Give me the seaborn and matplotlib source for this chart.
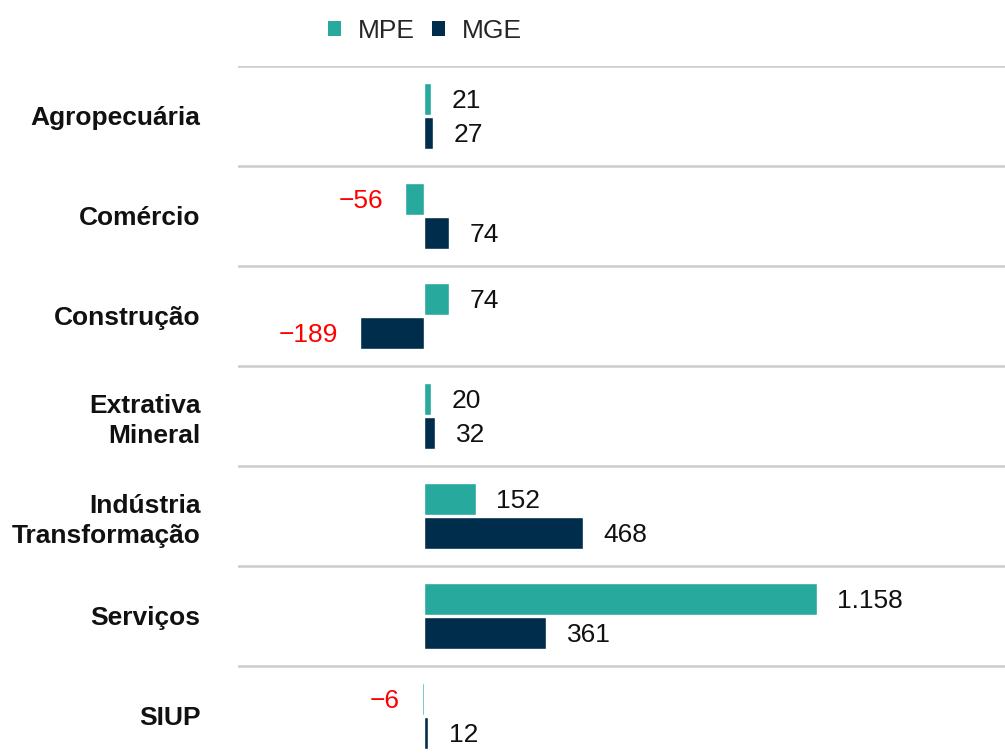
import matplotlib
matplotlib.use("Agg")
import matplotlib.pyplot as plt
import seaborn as sns
import pandas as pd
from matplotlib.patches import Patch

categories = ["Agropecuária", "Comércio", "Construção", "Extrativa\nMineral",
              "Indústria\nTransformação", "Serviços", "SIUP"]
mpe = [21, -56, 74, 20, 152, 1158, -6]
mge = [27, 74, -189, 32, 468, 361, 12]
series = ["MPE", "MGE"]
colors = {"MPE": "#27A99D", "MGE": "#002D4C"}

df = pd.DataFrame({
    "categoria": categories * 2,
    "valor": mpe + mge,
    "serie": ["MPE"] * len(categories) + ["MGE"] * len(categories),
})

sns.set_style("white")
plt.rcParams["font.family"] = ["Liberation Sans", "DejaVu Sans"]

fig = plt.figure(figsize=(10.05, 7.56), dpi=100)
ax = fig.add_axes([238 / 1005, 0.0, 1 - 238 / 1005, 690 / 756])

sns.barplot(data=df, y="categoria", x="valor", hue="serie", orient="h",
            palette=colors, width=0.68, gap=0.06, dodge=True, ax=ax,
            legend=False, saturation=1, errorbar=None)

ax.set_xlim(-549, 1714)
ax.set_ylim(6.4, -0.5)
for i in range(len(categories)):
    ax.axhline(i - 0.5, color="#cccccc", lw=1.8, zorder=0)

def fmt(v):
    s = f"{abs(v):,}".replace(",", ".")
    return ("\u2212" + s) if v < 0 else s

FS = 19
for cont, vals in zip(ax.containers, [mpe, mge]):
    for patch, v in zip(cont.patches, vals):
        yc = patch.get_y() + patch.get_height() / 2
        if v >= 0:
            ax.annotate(fmt(v), xy=(v, yc), xytext=(15, 0), textcoords="offset points",
                        ha="left", va="center_baseline", fontsize=FS, color="#111111")
        else:
            ax.annotate(fmt(v), xy=(v, yc), xytext=(-16, 0), textcoords="offset points",
                        ha="right", va="center_baseline", fontsize=FS, color="#ff0000")

ax.set_xlabel("")
ax.set_ylabel("")
ax.set_xticks([])
ax.tick_params(axis="y", length=0, pad=27)
for lab in ax.get_yticklabels():
    lab.set_fontweight("bold")
    lab.set_fontsize(FS)
    lab.set_color("#111111")
    lab.set_linespacing(1.3)
    lab.set_ha("right")
for s in ax.spines.values():
    s.set_visible(False)

handles = [Patch(facecolor=colors[s], edgecolor="none", label=s) for s in series]
fig.legend(handles=handles, loc="center", bbox_to_anchor=(425 / 1005, 1 - 31 / 756),
           ncol=2, frameon=False, fontsize=FS, handlelength=0.5, handleheight=0.5,
           handletextpad=0.65, columnspacing=0.65)

fig.savefig("out.png", dpi=100)
